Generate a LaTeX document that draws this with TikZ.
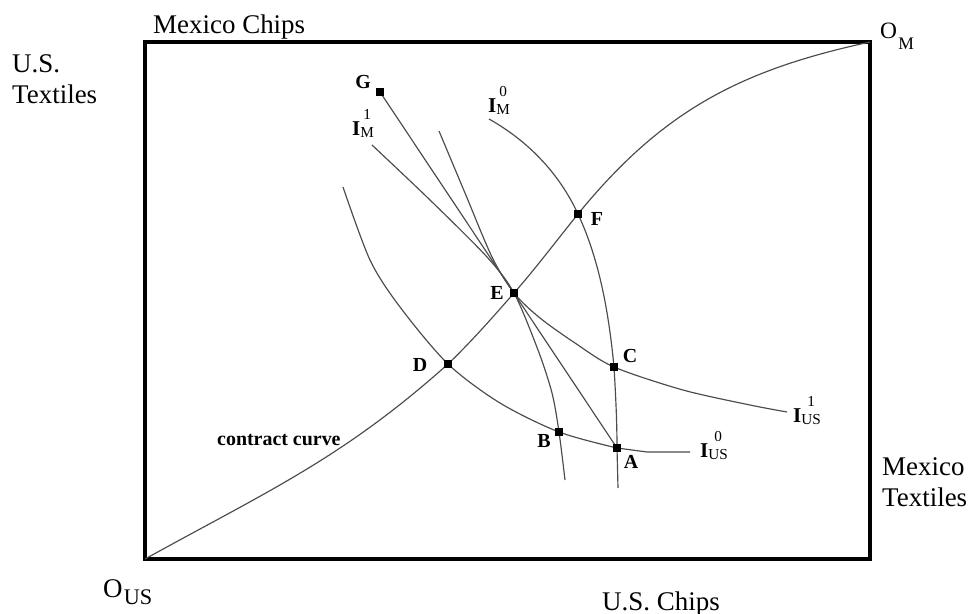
\documentclass[tikz,border=0pt]{standalone}
\usepackage{amsmath}
\usepackage{fontspec}
\setmainfont{Liberation Serif}
\usetikzlibrary{positioning}

% indifference curve label: bold I with stacked super- and subscript
\newcommand{\Ilab}[2]{\textbf{I}\raisebox{-2.5pt}{\fontsize{13}{13}\selectfont
  \begin{tabular}[b]{@{}c@{}}#1\\[2.4pt]#2\end{tabular}}}

\begin{document}
\begin{tikzpicture}[x=0.03cm, y=-0.03cm,
    pt/.style={fill=black, inner sep=0pt, minimum size=0.25cm},
    curve/.style={black!70, line width=1pt},
    ptlab/.style={font=\fontsize{17}{17}\selectfont\bfseries, inner sep=0pt},
    axlab/.style={font=\fontsize{23}{26.5}\selectfont, inner sep=0pt, align=left},
    ilab/.style={font=\fontsize{18}{18}\selectfont, inner sep=0pt, anchor=base west}]
  \useasboundingbox (0,0) rectangle (972,614);
  % box and origins
  \draw[line width=3.4pt] (145,42) rectangle (870,559);
  \coordinate (OUS) at (145,559);
  \coordinate (OM) at (870,42);
  % allocations
  \coordinate (A) at (617,448);
  \coordinate (B) at (559,432);
  \coordinate (C) at (614,367);
  \coordinate (D) at (448,364);
  \coordinate (E) at (514,293);
  \coordinate (F) at (578,214);
  \coordinate (G) at (380,92);

  % contract curve
  \draw[curve] (OUS) .. controls (268,491) and (343,458) .. (D)
    .. controls (471,342) and (493,317) .. (E)
    .. controls (536,268) and (557,240) .. (F)
    .. controls (662,111) and (740,70) .. (OM);
  % indifference curves
  \draw[curve] plot[smooth] coordinates {(343,187) (370,260) (400,307) (D) (500,403) (B) (A)} -- (647,452) -- (690,452);
  \draw[curve] plot[smooth] coordinates {(439,131) (465,193) (492,257) (E) (540,318) (575,343) (C) (683,390) (750,405) (787,412)};
  \draw[curve] plot[smooth] coordinates {(372,145) (430,200) (487,257) (E) (538,350) (552,393) (B) (565,480)};
  \draw[curve] (489,119) .. controls (528,141) and (559,173) .. (F)
    .. controls (600,261) and (609,315) .. (C)
    .. controls (616,400) and (617,425) .. (A) -- (618,488);
  % price line
  \draw[curve] (G) -- (A);

  \foreach \p in {A,B,C,D,E,F,G}
    \node[pt] (m\p) at (\p) {};

  % point labels
  \node[ptlab] (lG) at (363,82) {G};
  \node[ptlab] (lF) at (597,219) {F};
  \node[ptlab] (lE) at (497,293) {E};
  \node[ptlab] (lD) at (420,365) {D};
  \node[ptlab] (lC) at (630,356) {C};
  \node[ptlab] (lB) at (544,441) {B};
  \node[ptlab] (lA) at (631,462) {A};

  % curve labels
  \node[ilab] (im0) at (488,112) {\Ilab{0}{M}};
  \node[ilab] (im1) at (352,135) {\Ilab{1}{M}};
  \node[ilab] (ius0) at (700,457) {\Ilab{0}{US}};
  \node[ilab] (ius1) at (793,422) {\Ilab{1}{US}};
  \node[font=\fontsize{17}{17}\selectfont\bfseries, inner sep=0pt, anchor=base west] (cc) at (217,445) {contract curve};

  % axis labels
  \node[axlab, anchor=base west] (mxchips) at (153,33) {Mexico Chips};
  \node[axlab, anchor=north west] (ustex) at (12,54) {U.S.\\Textiles};
  \node[axlab, anchor=north west] (mxtex) at (882,457) {Mexico\\Textiles};
  \node[axlab, anchor=base west] (uschips) at (602,610) {U.S. Chips};
  \node[axlab, anchor=base west] (ous) at (103,597) {O\kern1pt\raisebox{-6.8pt}{\fontsize{19}{19}\selectfont US}};
  \node[font=\fontsize{20}{20}\selectfont, inner sep=0pt, anchor=base west] (om) at (880,38) {O\kern1pt\raisebox{-10pt}{\fontsize{15}{15}\selectfont M}};
\end{tikzpicture}
\end{document}
